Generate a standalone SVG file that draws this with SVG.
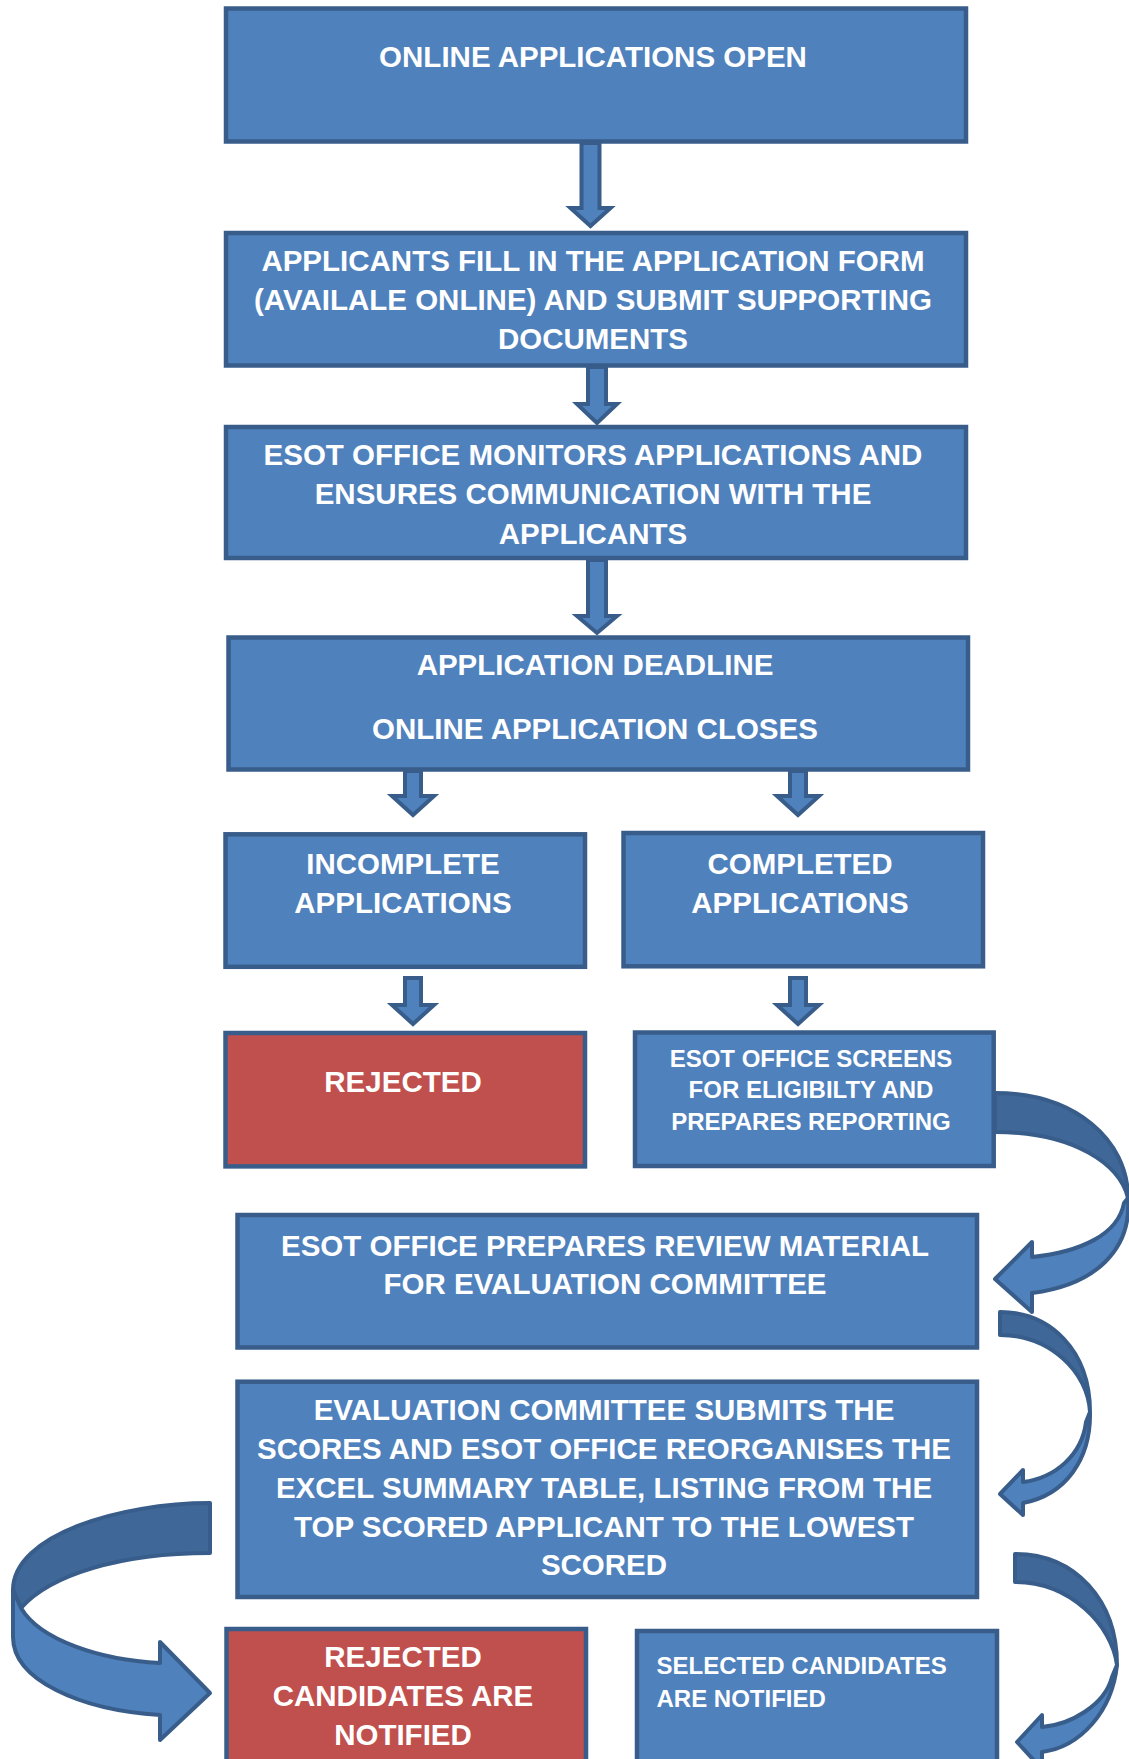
<svg xmlns="http://www.w3.org/2000/svg" width="1129" height="1759" viewBox="0 0 1129 1759">
  <style>
    .box { fill: #4F81BD; stroke: #385D8A; stroke-width: 4.5; }
    .red { fill: #C0504D; stroke: #385D8A; stroke-width: 4.5; }
    .arr { fill: #4F81BD; stroke: #385D8A; stroke-width: 4; stroke-linejoin: miter; }
    .back { fill: #3F6797; stroke: #385D8A; stroke-width: 4; stroke-linejoin: round; }
    .front { fill: #4F81BD; stroke: #385D8A; stroke-width: 4; stroke-linejoin: round; }
    text { font-family: "Liberation Sans", Arial, sans-serif; font-weight: bold; fill: #FFFFFF; }
    .t { font-size: 29.5px; text-anchor: middle; }
    .s { font-size: 24px; text-anchor: middle; }
    .sl { font-size: 24px; text-anchor: start; }
  </style>

  <g id="n1">
    <rect class="box" x="226" y="8.5" width="740" height="133"/>
    <text class="t" x="593" y="66.5">ONLINE APPLICATIONS OPEN</text>
  </g>
  <g id="n2">
    <rect class="box" x="226" y="233" width="740" height="132.5"/>
    <text class="t" x="593" y="271">APPLICANTS FILL IN THE APPLICATION FORM</text>
    <text class="t" x="593" y="310">(AVAILALE ONLINE) AND SUBMIT SUPPORTING</text>
    <text class="t" x="593" y="348.5">DOCUMENTS</text>
  </g>
  <g id="n3">
    <rect class="box" x="226" y="427" width="740" height="131"/>
    <text class="t" x="593" y="465">ESOT OFFICE MONITORS APPLICATIONS AND</text>
    <text class="t" x="593" y="504">ENSURES COMMUNICATION WITH THE</text>
    <text class="t" x="593" y="543.5">APPLICANTS</text>
  </g>
  <g id="n4">
    <rect class="box" x="228.5" y="637.5" width="739.5" height="132"/>
    <text class="t" x="595" y="674.5">APPLICATION DEADLINE</text>
    <text class="t" x="595" y="739">ONLINE APPLICATION CLOSES</text>
  </g>
  <g id="n5">
    <rect class="box" x="225.5" y="834.3" width="359.5" height="132.5"/>
    <text class="t" x="403" y="874">INCOMPLETE</text>
    <text class="t" x="403" y="912.5">APPLICATIONS</text>
  </g>
  <g id="n6">
    <rect class="box" x="623.5" y="833" width="359.5" height="133.3"/>
    <text class="t" x="800" y="873.5">COMPLETED</text>
    <text class="t" x="800" y="912.5">APPLICATIONS</text>
  </g>
  <g id="n7">
    <rect class="red" x="225.5" y="1033" width="359.5" height="133.4"/>
    <text class="t" x="403" y="1092">REJECTED</text>
  </g>
  <g id="n8">
    <rect class="box" x="635" y="1032.5" width="358.7" height="133.5"/>
    <text class="s" x="811" y="1066.5">ESOT OFFICE SCREENS</text>
    <text class="s" x="811" y="1098">FOR ELIGIBILTY AND</text>
    <text class="s" x="811" y="1129.5">PREPARES REPORTING</text>
  </g>
  <g id="n9">
    <rect class="box" x="237.5" y="1215" width="739.5" height="132.5"/>
    <text class="t" x="605" y="1256">ESOT OFFICE PREPARES REVIEW MATERIAL</text>
    <text class="t" x="605" y="1294">FOR EVALUATION COMMITTEE</text>
  </g>
  <g id="n10">
    <rect class="box" x="237.5" y="1381.7" width="739.5" height="215.3"/>
    <text class="t" x="604" y="1420">EVALUATION COMMITTEE SUBMITS THE</text>
    <text class="t" x="604" y="1458.5">SCORES AND ESOT OFFICE REORGANISES THE</text>
    <text class="t" x="604" y="1497.5">EXCEL SUMMARY TABLE, LISTING FROM THE</text>
    <text class="t" x="604" y="1536.5">TOP SCORED APPLICANT TO THE LOWEST</text>
    <text class="t" x="604" y="1575">SCORED</text>
  </g>
  <g id="n11">
    <rect class="red" x="226.5" y="1629" width="359.5" height="180"/>
    <text class="t" x="403" y="1667">REJECTED</text>
    <text class="t" x="403" y="1706">CANDIDATES ARE</text>
    <text class="t" x="403" y="1745">NOTIFIED</text>
  </g>
  <g id="n12">
    <rect class="box" x="637" y="1631" width="360" height="180"/>
    <text class="sl" x="656.5" y="1674">SELECTED CANDIDATES</text>
    <text class="sl" x="656.5" y="1707">ARE NOTIFIED</text>
  </g>

  <g id="connectors">
    <!-- straight block arrows pointing down -->
    <path class="arr" d="M581.5 143 L599.5 143 L599.5 208 L610.5 208 L590.5 226 L570.5 208 L581.5 208 Z"/>
    <path class="arr" d="M588 367 L606 367 L606 404 L617 404 L597 423 L577 404 L588 404 Z"/>
    <path class="arr" d="M588 560 L606 560 L606 616 L617 616 L597 633 L577 616 L588 616 Z"/>
    <path class="arr" d="M405 771 L421 771 L421 796 L434 796 L413 815 L392 796 L405 796 Z"/>
    <path class="arr" d="M790 771 L806 771 L806 796 L819 796 L798 815 L777 796 L790 796 Z"/>
    <path class="arr" d="M405 978 L421 978 L421 1005 L434 1005 L413 1024 L392 1005 L405 1005 Z"/>
    <path class="arr" d="M790 978 L806 978 L806 1005 L819 1005 L798 1024 L777 1005 L790 1005 Z"/>

    <!-- curved arrow: screening to review material -->
    <path class="back" d="M995 1093 C1075 1093 1128 1140 1128 1198 C1120 1165 1075 1132 995 1132 Z"/>
    <path class="front" d="M1128 1198 C1132 1250 1095 1285 1032 1293 L1032 1312 L995 1279 L1032 1242 L1032 1257 C1080 1252 1118 1235 1124 1203 Z"/>

    <!-- curved arrow: review material to evaluation -->
    <path class="back" d="M1000 1312 C1050 1312 1090 1350 1090 1412 C1088 1372 1050 1335 1000 1335 Z"/>
    <path class="front" d="M1090 1412 C1091 1460 1065 1495 1023 1503 L1023 1515 L1000 1494 L1023 1470 L1023 1482 C1055 1478 1082 1455 1086 1422 Z"/>

    <!-- curved arrow: evaluation to selected candidates -->
    <path class="back" d="M1015 1554 C1075 1554 1117 1600 1117 1665 C1112 1625 1070 1582 1015 1582 Z"/>
    <path class="front" d="M1117 1665 C1112 1712 1080 1747 1042 1752 L1042 1769 L1017 1742 L1042 1715 L1042 1727 C1070 1725 1105 1705 1112 1677 Z"/>

    <!-- curved arrow: evaluation to rejected candidates -->
    <path class="back" d="M210 1503 C120 1503 13 1535 13 1590 L21 1608 C50 1575 120 1553 210 1553 Z"/>
    <path class="front" d="M13 1590 L13 1637 C13 1680 80 1710 160 1715 L160 1740 L210 1693 L160 1642 L160 1663 C100 1660 40 1640 21 1608 Z"/>
  </g>
</svg>
